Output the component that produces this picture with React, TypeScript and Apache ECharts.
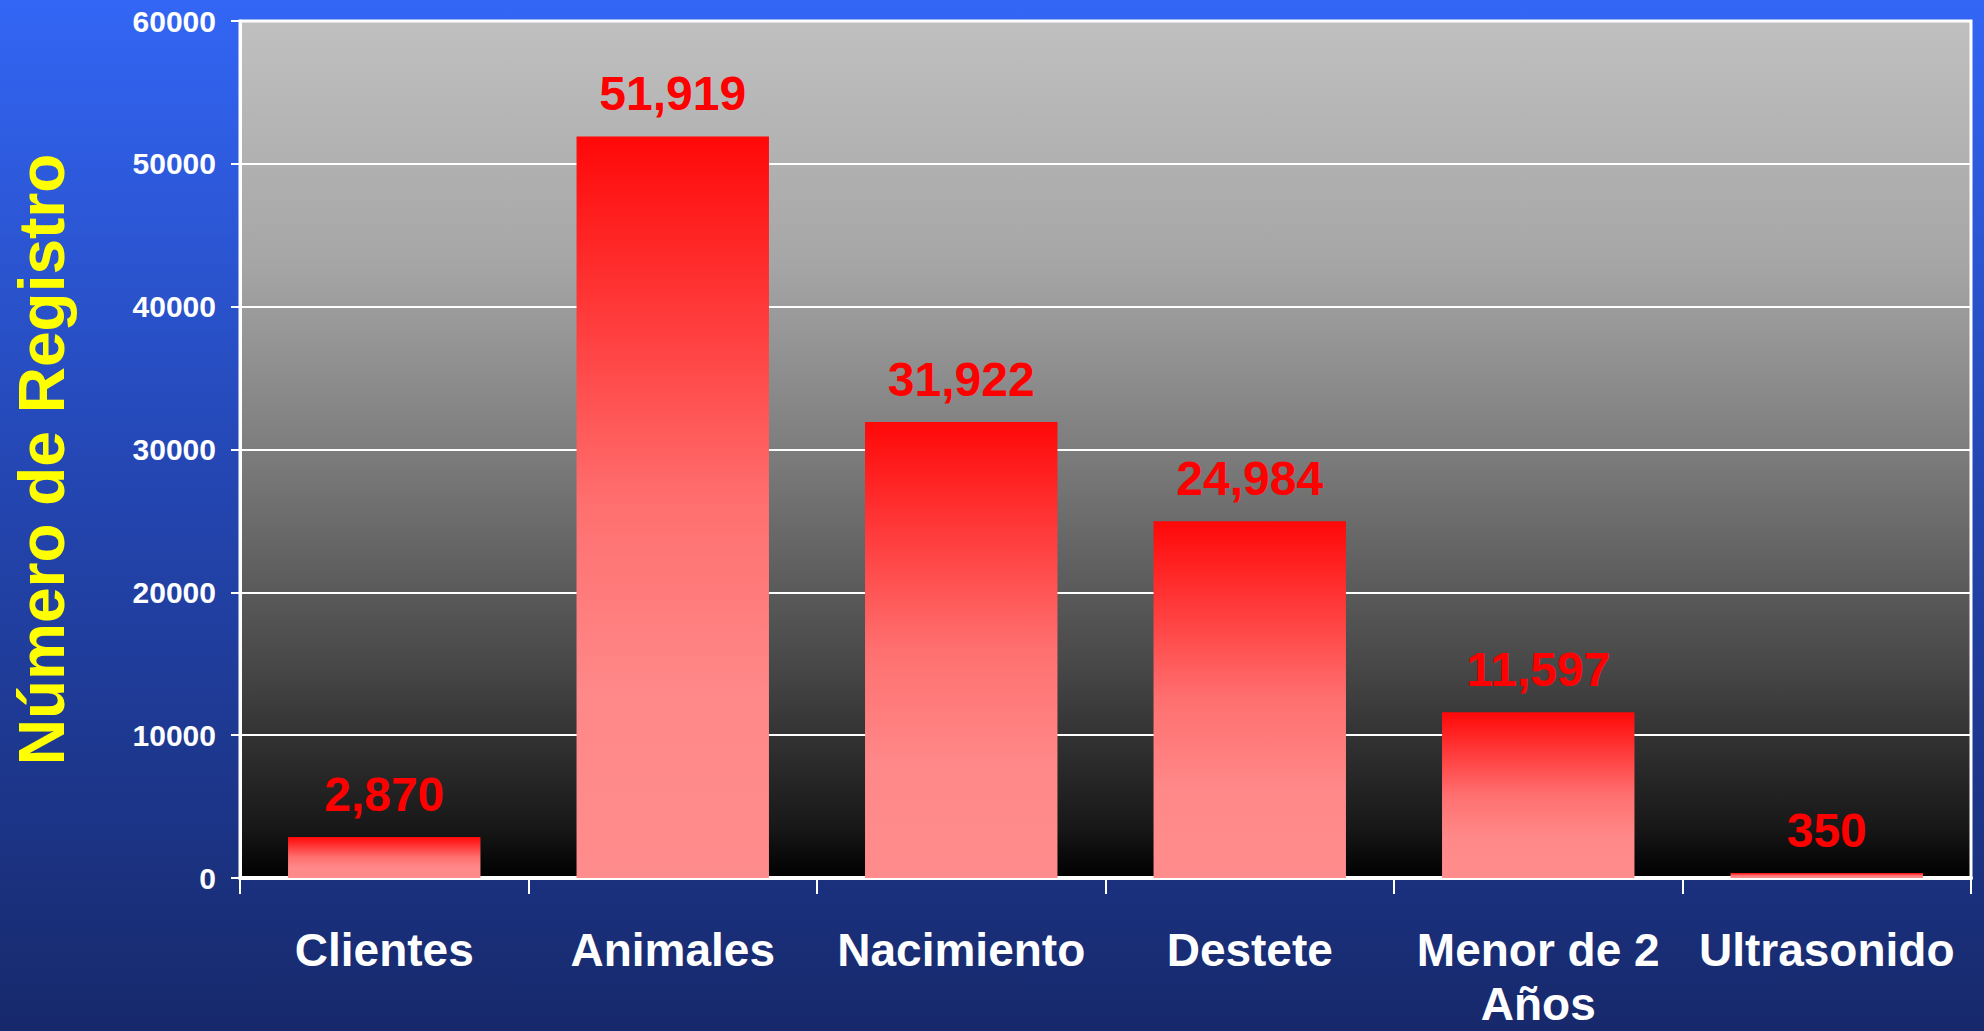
import React, { useEffect, useRef } from "react";
import * as echarts from "echarts";

const categories = ["Clientes", "Animales", "Nacimiento", "Destete", "Menor de 2 Años", "Ultrasonido"];
const values = [2870, 51919, 31922, 24984, 11597, 350];
const yTicks = [0, 10000, 20000, 30000, 40000, 50000, 60000];
const yTitle = "Número de Registro";

const ARIAL = "'Liberation Sans', Arial, sans-serif";

export default function App() {
  const ref = useRef<HTMLDivElement>(null);
  useEffect(() => {
    document.body.style.margin = "0";
    const chart = echarts.init(ref.current!, null, { renderer: "svg" });
    const fmt = (v: number) => v.toLocaleString("en-US");
    chart.setOption({
      animation: false,
      backgroundColor: new echarts.graphic.LinearGradient(0, 0, 0, 1, [
        { offset: 0, color: "#3366f5" },
        { offset: 0.45, color: "#2447b4" },
        { offset: 1, color: "#17296b" },
      ]),
      grid: {
        left: 240,
        right: 13,
        top: 21,
        bottom: 153,
        outerBoundsMode: "none",
        containLabel: false,
        show: true,
        borderColor: "#ffffff",
        borderWidth: 3,
        backgroundColor: new echarts.graphic.LinearGradient(0, 0, 0, 1, [
          { offset: 0, color: "#c0c0c0" },
          { offset: 0.28, color: "#a6a6a6" },
          { offset: 0.51, color: "#7b7b7b" },
          { offset: 0.75, color: "#484848" },
          { offset: 0.94, color: "#181818" },
          { offset: 1, color: "#000000" },
        ]),
      },
      xAxis: {
        type: "category",
        data: categories,
        axisLine: { lineStyle: { color: "#ffffff", width: 4 } },
        axisTick: { show: true, length: 16, lineStyle: { color: "#ffffff", width: 2 } },
        axisLabel: {
          interval: 0,
          color: "#ffffff",
          fontFamily: ARIAL,
          fontWeight: "bold",
          fontSize: 46,
          lineHeight: 54,
          margin: 45,
          formatter: (v: string) => v.replace("Menor de 2 ", "Menor de 2\n"),
        },
      },
      yAxis: {
        type: "value",
        min: yTicks[0],
        max: yTicks[yTicks.length - 1],
        interval: yTicks[1] - yTicks[0],
        name: yTitle,
        nameLocation: "middle",
        nameRotate: 90,
        nameGap: 166,
        nameTextStyle: {
          color: "#ffff00",
          fontFamily: ARIAL,
          fontWeight: "bold",
          fontSize: 64,
          padding: [0, 20, 0, 0],
        },
        axisLine: { show: true, lineStyle: { color: "#ffffff", width: 3 } },
        axisTick: { show: true, length: 9, lineStyle: { color: "#ffffff", width: 2 } },
        splitLine: { show: true, lineStyle: { color: "#ffffff", width: 2 } },
        axisLabel: {
          color: "#ffffff",
          fontFamily: ARIAL,
          fontWeight: "bold",
          fontSize: 30,
          margin: 24,
          formatter: (v: number) => String(v),
        },
      },
      series: [
        {
          type: "bar",
          data: values,
          barWidth: "66.7%",
          itemStyle: {
            color: new echarts.graphic.LinearGradient(0, 0, 0, 1, [
              { offset: 0, color: "#ff0808" },
              { offset: 0.5, color: "#ff7070" },
              { offset: 0.75, color: "#ff8888" },
              { offset: 1, color: "#ff8c8c" },
            ]),
          },
          label: {
            show: true,
            position: "top",
            distance: 19,
            color: "#ff0000",
            fontFamily: ARIAL,
            fontWeight: "bold",
            fontSize: 48,
            formatter: (p: any) => fmt(p.value),
          },
        },
      ],
    });
    return () => chart.dispose();
  }, []);
  return <div ref={ref} style={{ width: 1984, height: 1031 }} />;
}
